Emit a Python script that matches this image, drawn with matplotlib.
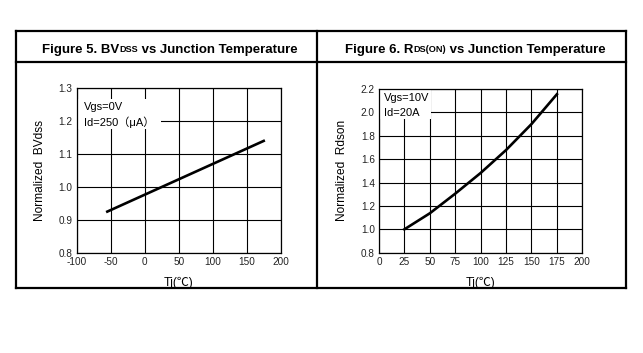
import matplotlib
matplotlib.use("Agg")
import matplotlib.pyplot as plt
from matplotlib.lines import Line2D
from matplotlib.patches import Rectangle

# ---- data ----
bv_tj = [-55, 175]
bv_norm = [0.925, 1.14]

rds_tj = [25, 50, 75, 100, 125, 150, 175]
rds_norm = [1.0, 1.137, 1.305, 1.482, 1.678, 1.90, 2.155]

left_xticks = [-100, -50, 0, 50, 100, 150, 200]
left_yticks = [0.8, 0.9, 1.0, 1.1, 1.2, 1.3]
right_xticks = [0, 25, 50, 75, 100, 125, 150, 175, 200]
right_yticks = [0.8, 1.0, 1.2, 1.4, 1.6, 1.8, 2.0, 2.2]

FAM = ['Liberation Sans', 'Noto Sans CJK SC', 'DejaVu Sans']
plt.rcParams['font.family'] = FAM
plt.rcParams['axes.unicode_minus'] = False

W, H = 643, 353
fig = plt.figure(figsize=(W / 100, H / 100), dpi=100)

def fx(px):
    return px / W

def fy(py):
    return 1 - py / H

# outer table
lw_border = 1.6
for (x0, y0, x1, y1) in [(16, 31, 626, 31), (16, 288, 626, 288), (16, 31, 16, 288),
                         (626, 31, 626, 288), (16, 62, 626, 62), (317, 31, 317, 288)]:
    fig.add_artist(Line2D([fx(x0), fx(x1)], [fy(y0), fy(y1)], color='black',
                          lw=lw_border, transform=fig.transFigure))

def style_axes(ax, xt, yt, fmt):
    ax.set_xlim(xt[0], xt[-1])
    ax.set_ylim(yt[0], yt[-1])
    ax.set_xticks(xt)
    ax.set_yticks(yt)
    ax.set_yticklabels([fmt % v for v in yt])
    ax.tick_params(length=0, labelsize=7.2, pad=3, labelcolor='#222222')
    ax.grid(True, color='black', lw=0.8)
    ax.set_axisbelow(True)
    for s in ax.spines.values():
        s.set_linewidth(0.9)
        s.set_zorder(5)

def note_box(ax, x0, x1, y0, y1):
    ax.add_patch(Rectangle((x0, y0), x1 - x0, y1 - y0, facecolor='white',
                           edgecolor='none', zorder=2))

# left axes
axL = fig.add_axes([fx(76.7), fy(252.7), fx(280.7) - fx(76.7), fy(88.3) - fy(252.7)])
style_axes(axL, left_xticks, left_yticks, '%.1f')
axL.plot(bv_tj, bv_norm, color='black', lw=1.9, zorder=4)
axL.set_ylabel('Normalized  BVdss', fontsize=8.6, labelpad=9)
axL.set_xlabel('Tj(℃)', fontsize=8.6, labelpad=7)
note_box(axL, -100, 24, 1.176, 1.267)
axL.text(-89, 1.244, 'Vgs=0V', fontsize=8, va='center', ha='left', zorder=3)
axL.text(-89, 1.197, 'Id=250（μA）', fontsize=8, va='center', ha='left', zorder=3)

# right axes
axR = fig.add_axes([fx(379), fy(252.7), fx(582.3) - fx(379), fy(89) - fy(252.7)])
style_axes(axR, right_xticks, right_yticks, '%.1f')
axR.plot(rds_tj, rds_norm, color='black', lw=1.9, zorder=4)
axR.set_ylabel('Normalized  Rdson', fontsize=8.6, labelpad=9)
axR.set_xlabel('Tj(℃)', fontsize=8.6, labelpad=7)
note_box(axR, 0, 51, 1.943, 2.2)
axR.text(5, 2.126, 'Vgs=10V', fontsize=8, va='center', ha='left', zorder=3)
axR.text(5, 1.992, 'Id=20A', fontsize=8, va='center', ha='left', zorder=3)

# titles made of pieces (main text + small subscript)
def title(pieces, cx, cy):
    fig.canvas.draw()
    r = fig.canvas.get_renderer()
    texts = []
    widths = []
    for s, size in pieces:
        t = fig.text(0, fy(cy), s, fontsize=size, fontweight='bold', va='baseline', ha='left')
        texts.append(t)
        widths.append(t.get_window_extent(r).width)
    total = sum(widths)
    x = cx - total / 2
    for t, w in zip(texts, widths):
        t.set_x(fx(x))
        x += w

title([('Figure 5. BV', 9.5), ('DSS', 6.6), (' vs Junction Temperature', 9.5)], 169.5, 52.5)
title([('Figure 6. R', 9.5), ('DS(ON)', 6.6), (' vs Junction Temperature', 9.5)], 475, 52.5)

fig.savefig('out.png', dpi=100)
